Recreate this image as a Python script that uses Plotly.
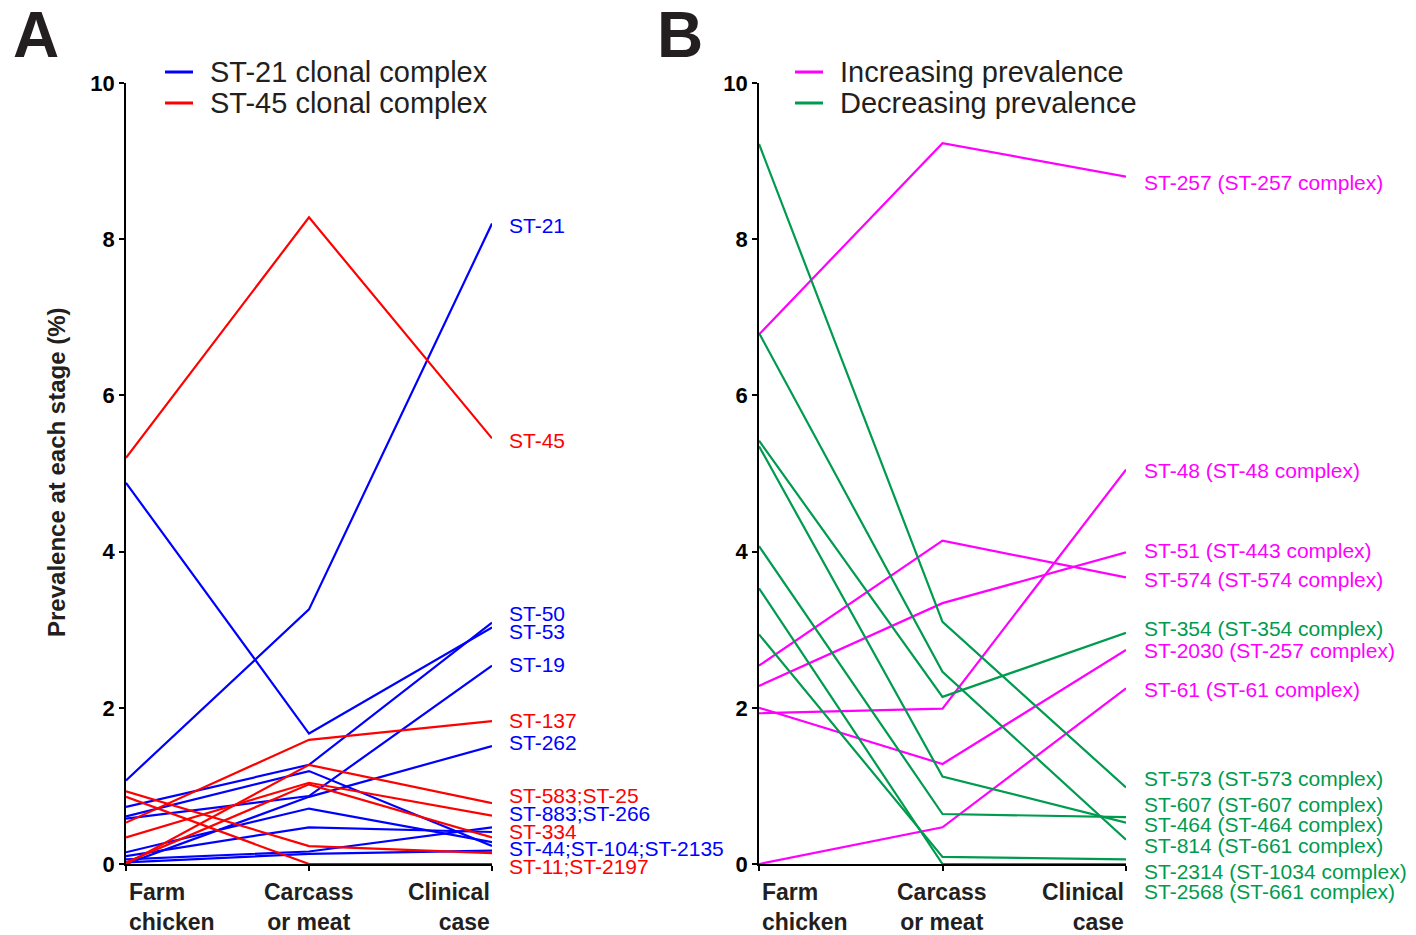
import plotly.graph_objects as go

# ---------------- data ----------------
stages = ["Farm chicken", "Carcass or meat", "Clinical case"]
y_ticks = [0, 2, 4, 6, 8, 10]

# Panel A
a_names = ["ST-21", "ST-53", "ST-50", "ST-19", "ST-262", "ST-883", "ST-266", "ST-44", "ST-104", "ST-2135",
           "ST-45", "ST-137", "ST-583", "ST-25", "ST-334", "ST-11", "ST-2197"]
a_group = ["ST-21 clonal complex"] * 10 + ["ST-45 clonal complex"] * 7
a_farm = [1.07, 4.88, 0.73, 0.58, 0.00, 0.10, 0.06, 0.61, 0.15, 0.02,
          5.20, 0.53, 0.00, 0.34, 0.02, 0.93, 0.86]
a_carcass = [3.26, 1.67, 1.27, 0.87, 0.86, 0.47, 0.16, 1.19, 0.71, 0.13,
             8.28, 1.59, 1.27, 1.04, 1.02, 0.23, 0.00]
a_clinical = [8.20, 3.03, 3.09, 2.54, 1.51, 0.41, 0.47, 0.23, 0.28, 0.17,
              5.45, 1.83, 0.78, 0.62, 0.34, 0.14, 0.00]
a_label_text = ["ST-21", "ST-45", "ST-50", "ST-53", "ST-19", "ST-137", "ST-262", "ST-583;ST-25",
                "ST-883;ST-266", "ST-334", "ST-44;ST-104;ST-2135", "ST-11;ST-2197"]
a_label_y = [8.17, 5.42, 3.21, 2.98, 2.55, 1.84, 1.55, 0.88, 0.65, 0.42, 0.20, -0.03]
a_label_group = ["ST-21 clonal complex", "ST-45 clonal complex", "ST-21 clonal complex", "ST-21 clonal complex",
                 "ST-21 clonal complex", "ST-45 clonal complex", "ST-21 clonal complex", "ST-45 clonal complex",
                 "ST-21 clonal complex", "ST-45 clonal complex", "ST-21 clonal complex", "ST-45 clonal complex"]

# Panel B
b_names = ["ST-257", "ST-48", "ST-51", "ST-574", "ST-2030", "ST-61",
           "ST-354", "ST-573", "ST-607", "ST-464", "ST-814", "ST-2314", "ST-2568"]
b_group = ["Increasing prevalence"] * 6 + ["Decreasing prevalence"] * 7
b_farm = [6.78, 1.93, 2.28, 2.54, 2.00, 0.00, 5.42, 9.22, 4.07, 5.35, 6.80, 2.94, 3.53]
b_carcass = [9.23, 1.99, 3.34, 4.14, 1.28, 0.47, 2.14, 3.10, 0.64, 1.12, 2.46, 0.09, 0.00]
b_clinical = [8.80, 5.05, 3.99, 3.67, 2.74, 2.25, 2.96, 0.98, 0.60, 0.53, 0.31, 0.06, 0.00]
b_label_text = ["ST-257 (ST-257 complex)", "ST-48 (ST-48 complex)", "ST-51 (ST-443 complex)",
                "ST-574 (ST-574 complex)", "ST-354 (ST-354 complex)", "ST-2030 (ST-257 complex)",
                "ST-61 (ST-61 complex)", "ST-573 (ST-573 complex)", "ST-607 (ST-607 complex)",
                "ST-464 (ST-464 complex)", "ST-814 (ST-661 complex)", "ST-2314 (ST-1034 complex)",
                "ST-2568 (ST-661 complex)"]
b_label_y = [8.73, 5.04, 4.02, 3.64, 3.02, 2.73, 2.24, 1.10, 0.76, 0.50, 0.24, -0.10, -0.35]
b_label_group = ["Increasing prevalence"] * 4 + ["Decreasing prevalence"] + ["Increasing prevalence"] * 2 + \
                ["Decreasing prevalence"] * 6

colors = {
    "ST-21 clonal complex": "#0000FF",
    "ST-45 clonal complex": "#FF0000",
    "Increasing prevalence": "#FF00FF",
    "Decreasing prevalence": "#009B4E",
}

# ---------------- figure ----------------
W, H = 1416, 935
FONT = "Liberation Sans, Arial, Helvetica, sans-serif"
TXT = "#231F20"
PLOT_TOP, PLOT_BOTTOM = 83, 864
PX_PER_UNIT = (PLOT_BOTTOM - PLOT_TOP) / 10.0


def px(x):
    return x / W


def py(y):
    return 1 - y / H


xs = list(range(len(stages)))
fig = go.Figure()

for i, n in enumerate(a_names):
    fig.add_trace(go.Scatter(
        x=xs, y=[a_farm[i], a_carcass[i], a_clinical[i]], mode="lines", name=n,
        line=dict(color=colors[a_group[i]], width=2.2), xaxis="x", yaxis="y",
        showlegend=False, cliponaxis=False, hoverinfo="name+y"))

for i, n in enumerate(b_names):
    fig.add_trace(go.Scatter(
        x=xs, y=[b_farm[i], b_carcass[i], b_clinical[i]], mode="lines", name=n,
        line=dict(color=colors[b_group[i]], width=2.2), xaxis="x2", yaxis="y2",
        showlegend=False, cliponaxis=False, hoverinfo="name+y"))

ann = []


def end_label(t, yv, g, xr, yr, xshift):
    # labels below 0 are anchored at 0 and shifted down (annotations outside the range are hidden)
    return dict(x=xs[-1], y=max(yv, 0), xref=xr, yref=yr, text=t, showarrow=False,
                xanchor="left", yanchor="middle", xshift=xshift,
                yshift=min(yv, 0) * PX_PER_UNIT,
                font=dict(family=FONT, size=21, color=colors[g]))


for t, yv, g in zip(a_label_text, a_label_y, a_label_group):
    ann.append(end_label(t, yv, g, "x", "y", 15))
for t, yv, g in zip(b_label_text, b_label_y, b_label_group):
    ann.append(end_label(t, yv, g, "x2", "y2", 16))

# stage labels under the axes
panel_x = [(126, 309, 492), (759, 942, 1126)]
anchors = ["left", "center", "right"]
for (x0, x1, x2) in panel_x:
    for sx, st, an in zip((x0 + 1, x1, x2), stages, anchors):
        w = st.split(" ", 1)
        ann.append(dict(x=px(sx), y=py(877), xref="paper", yref="paper",
                        text="<b>" + w[0] + "</b><br><b>" + w[1] + "</b>", showarrow=False,
                        xanchor=an, yanchor="top", align=an,
                        font=dict(family=FONT, size=23, color=TXT)))

# y-axis title
ann.append(dict(x=px(57), y=py(472), xref="paper", yref="paper",
                text="<b>Prevalence at each stage (%)</b>", textangle=-90, showarrow=False,
                xanchor="center", yanchor="middle", font=dict(family=FONT, size=24, color=TXT)))

# panel letters
for letter, lx in (("A", 11), ("B", 655)):
    ann.append(dict(x=px(lx), y=py(35), xref="paper", yref="paper", text="<b>" + letter + "</b>",
                    showarrow=False, xanchor="left", yanchor="middle",
                    font=dict(family=FONT, size=64, color=TXT)))

# legends (line sample + text)
shapes = []
legend_items = [("ST-21 clonal complex", 165, 72), ("ST-45 clonal complex", 165, 103),
                ("Increasing prevalence", 795, 72), ("Decreasing prevalence", 795, 103)]
for name, lx, ly in legend_items:
    shapes.append(dict(type="line", xref="paper", yref="paper", x0=px(lx), x1=px(lx + 28),
                       y0=py(ly), y1=py(ly), line=dict(color=colors[name], width=3)))
    ann.append(dict(x=px(lx + 43), y=py(ly), xref="paper", yref="paper", text=name,
                    showarrow=False, xanchor="left", yanchor="middle",
                    font=dict(family=FONT, size=29, color=TXT)))

xaxis_common = dict(range=[xs[0], xs[-1]], tickvals=xs, showticklabels=False, showgrid=False,
                    zeroline=False, showline=True, linecolor="black", linewidth=1.5,
                    ticks="outside", ticklen=5, tickwidth=1.5, tickcolor="black",
                    layer="below traces", fixedrange=True, automargin=False)
yaxis_common = dict(range=[0, 10], tickvals=y_ticks, showgrid=False, zeroline=False,
                    showline=True, linecolor="black", linewidth=1.5, ticks="outside",
                    ticklen=5, tickwidth=1.5, tickcolor="black", layer="below traces",
                    tickfont=dict(family=FONT, size=22, color="black", weight="bold"),
                    fixedrange=True, automargin=False)

fig.update_layout(
    template="none",
    width=W, height=H,
    margin=dict(l=0, r=0, t=0, b=0, pad=0, autoexpand=False),
    paper_bgcolor="white", plot_bgcolor="white",
    showlegend=False,
    xaxis=dict(domain=[px(126), px(492)], anchor="y", **xaxis_common),
    yaxis=dict(domain=[py(PLOT_BOTTOM), py(PLOT_TOP)], anchor="x", **yaxis_common),
    xaxis2=dict(domain=[px(759), px(1126)], anchor="y2", **xaxis_common),
    yaxis2=dict(domain=[py(PLOT_BOTTOM), py(PLOT_TOP)], anchor="x2", **yaxis_common),
    annotations=ann,
    shapes=shapes,
    font=dict(family=FONT),
)

fig.write_html(
    "out.html",
    config={"displayModeBar": False},
    post_script="document.body.style.margin='0';document.body.style.overflow='hidden';",
)
